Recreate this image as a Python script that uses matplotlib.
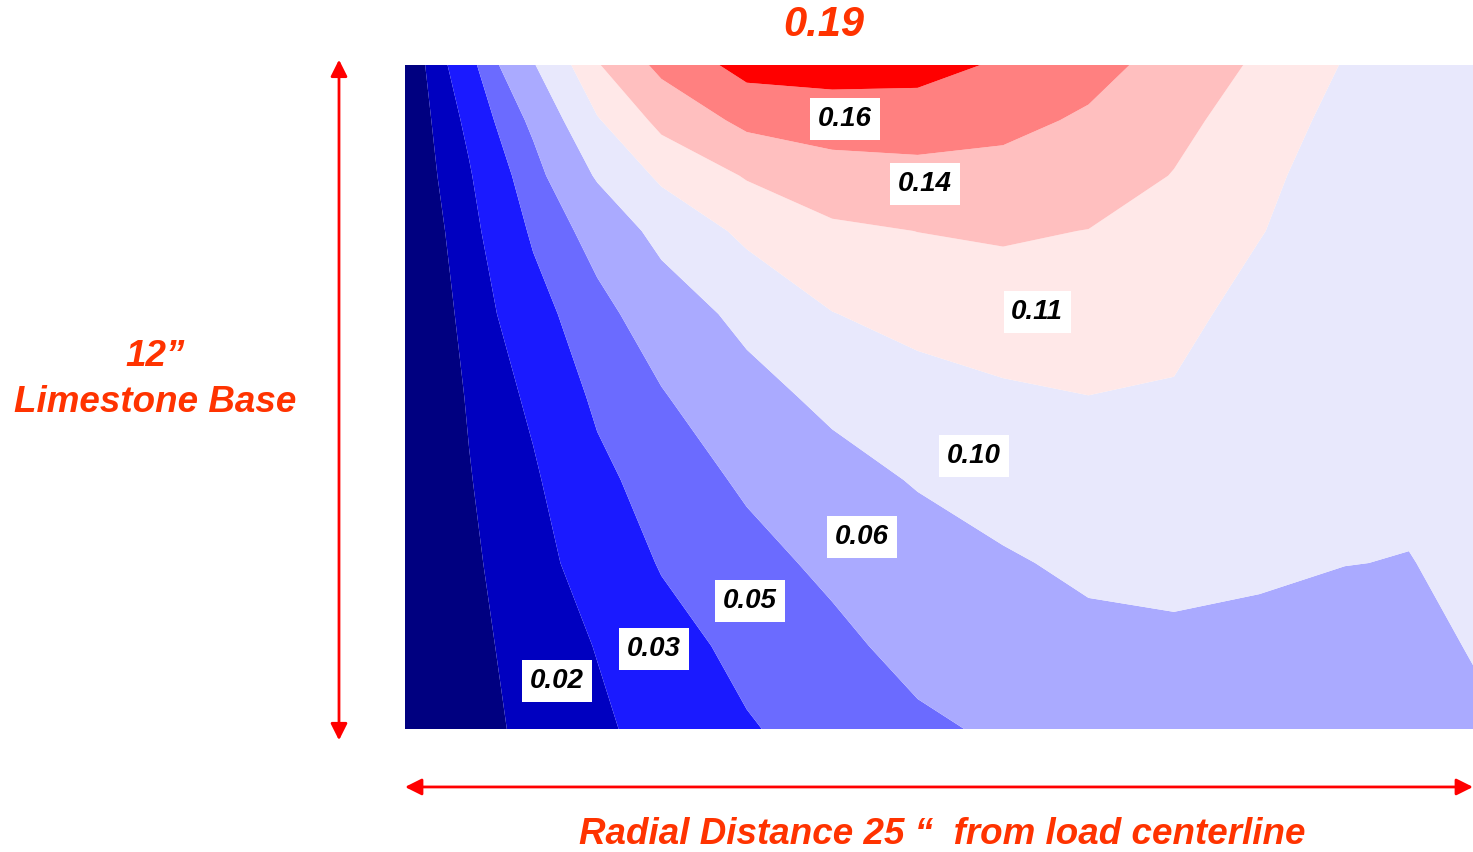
import numpy as np
import matplotlib.pyplot as plt

# grid of the contour plot: radial distance (in) and depth (in)
radial = [0, 1.5, 3, 4.5, 6, 8, 10, 12, 14, 16, 18, 20, 22, 23.5, 25]
depth = [0, 1, 2, 3, 4.5, 6, 7.5, 9, 10.5, 12]

# values, one row per depth
stress = [
    [0.0060, 0.0346, 0.0783, 0.1232, 0.1565, 0.1838, 0.1850, 0.1838, 0.1718, 0.1580, 0.1413, 0.1212, 0.1038, 0.0950, 0.0913],
    [0.0060, 0.0279, 0.0590, 0.1033, 0.1305, 0.1563, 0.1625, 0.1625, 0.1563, 0.1468, 0.1308, 0.1150, 0.0988, 0.0925, 0.0900],
    [0.0060, 0.0238, 0.0480, 0.0825, 0.1092, 0.1265, 0.1390, 0.1425, 0.1423, 0.1360, 0.1242, 0.1098, 0.0950, 0.0905, 0.0888],
    [0.0050, 0.0210, 0.0420, 0.0623, 0.0878, 0.1100, 0.1210, 0.1252, 0.1275, 0.1246, 0.1170, 0.1060, 0.0925, 0.0893, 0.0875],
    [0.0050, 0.0179, 0.0342, 0.0493, 0.0653, 0.0873, 0.1045, 0.1114, 0.1142, 0.1148, 0.1112, 0.0975, 0.0900, 0.0875, 0.0868],
    [0.0050, 0.0158, 0.0274, 0.0426, 0.0535, 0.0703, 0.0865, 0.0970, 0.1023, 0.1048, 0.1030, 0.0945, 0.0875, 0.0855, 0.0863],
    [0.0055, 0.0145, 0.0233, 0.0364, 0.0462, 0.0575, 0.0698, 0.0820, 0.0900, 0.0948, 0.0943, 0.0885, 0.0838, 0.0830, 0.0850],
    [0.0060, 0.0133, 0.0210, 0.0304, 0.0410, 0.0498, 0.0585, 0.0680, 0.0773, 0.0845, 0.0853, 0.0830, 0.0803, 0.0795, 0.0838],
    [0.0060, 0.0124, 0.0188, 0.0255, 0.0345, 0.0439, 0.0510, 0.0603, 0.0678, 0.0738, 0.0763, 0.0750, 0.0725, 0.0725, 0.0815],
    [0.0065, 0.0117, 0.0173, 0.0228, 0.0294, 0.0388, 0.0456, 0.0520, 0.0575, 0.0613, 0.0638, 0.0663, 0.0675, 0.0688, 0.0750],
]

levels = [0, 0.015, 0.025, 0.04, 0.055, 0.08, 0.105, 0.125, 0.15, 0.175, 0.25]
band_colors = ['#000080', '#0000C0', '#1A1AFF', '#6B6BFF', '#AAAAFF',
               '#E8E8FC', '#FFE8E8', '#FFBFBF', '#FF8080', '#FF0000']

band_labels = ['0.02', '0.03', '0.05', '0.06', '0.10', '0.11', '0.14', '0.16']
label_radial = [3.56, 5.83, 8.08, 10.70, 13.32, 14.80, 12.17, 10.30]
label_depth = [11.13, 10.55, 9.69, 8.53, 7.07, 4.46, 2.15, 0.98]
peak_label = '0.19'

accent = '#FF3300'
font = 'Liberation Sans'

fig = plt.figure(figsize=(14.73, 8.52), dpi=100)
ax = fig.add_axes([405 / 1473, 123 / 852, 1068 / 1473, 664 / 852])

ax.contourf(radial, depth, np.array(stress), levels=levels, colors=band_colors,
            antialiased=True)
ax.set_xlim(radial[0], radial[-1])
ax.set_ylim(depth[-1], depth[0])
ax.set_xticks([])
ax.set_yticks([])
for s in ax.spines.values():
    s.set_visible(False)

for txt, x, y in zip(band_labels, label_radial, label_depth):
    ax.text(x, y, txt, ha='center', va='center', fontsize=20,
            family=font, fontweight='bold', fontstyle='italic', color='black',
            bbox=dict(boxstyle='square,pad=0.28', fc='white', ec='none'))

# peak value above the plot
ax.text(0.392, 1.06, peak_label, transform=ax.transAxes, ha='center', va='center',
        fontsize=30, family=font, fontweight='bold', fontstyle='italic', color=accent)

# dimension arrows
arrow = dict(arrowstyle='<|-|>', color='#FF0000', lw=2, mutation_scale=25,
             shrinkA=0, shrinkB=0)
ax.annotate('', xy=(-0.0618, -0.017), xytext=(-0.0618, 1.008),
            xycoords='axes fraction', textcoords='axes fraction',
            arrowprops=arrow, annotation_clip=False)
ax.annotate('', xy=(0.0, -0.0873), xytext=(1.0, -0.0873),
            xycoords='axes fraction', textcoords='axes fraction',
            arrowprops=arrow, annotation_clip=False)

fig.text(155 / 1473, 1 - 357 / 852, '12\u201d', ha='center', va='center',
         fontsize=26.5, family=font, fontweight='bold', fontstyle='italic', color=accent)
fig.text(155 / 1473, 1 - 403 / 852, 'Limestone Base', ha='center', va='center',
         fontsize=26.5, family=font, fontweight='bold', fontstyle='italic', color=accent)
fig.text(942 / 1473, 1 - 834 / 852, 'Radial Distance 25 \u201c  from load centerline',
         ha='center', va='center', fontsize=26.5, family=font, fontweight='bold',
         fontstyle='italic', color=accent)

fig.savefig('out.png', dpi=100)
